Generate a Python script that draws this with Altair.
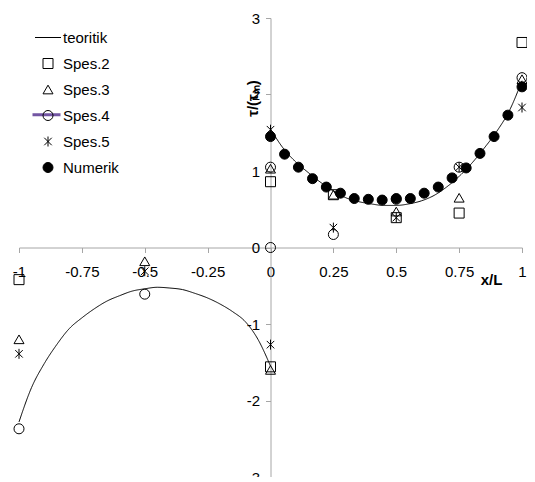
import altair as alt
import pandas as pd

FONT = "Liberation Sans"

series_order = ["teoritik", "Spes.2", "Spes.3", "Spes.4", "Spes.5", "Numerik"]

# theoretical curve, negative branch (x/L from -1 to 0)
teo_neg_x = [-1.0, -0.95, -0.9, -0.85, -0.8, -0.75, -0.7, -0.65, -0.6, -0.55, -0.5,
             -0.45, -0.4, -0.35, -0.3, -0.25, -0.2, -0.15, -0.1, -0.05, 0.0]
teo_neg_y = [-2.28, -1.83, -1.52, -1.27, -1.06, -0.92, -0.8, -0.7, -0.63, -0.57, -0.54,
             -0.52, -0.53, -0.55, -0.6, -0.66, -0.74, -0.84, -0.97, -1.2, -1.55]
# theoretical curve, positive branch (x/L from 0 to 1)
teo_pos_x = [0.0, 0.05, 0.1, 0.15, 0.2, 0.25, 0.3, 0.35, 0.4, 0.45, 0.5,
             0.55, 0.6, 0.65, 0.7, 0.75, 0.8, 0.85, 0.9, 0.95, 1.0]
teo_pos_y = [1.55, 1.3, 1.12, 0.98, 0.85, 0.74, 0.65, 0.6, 0.57, 0.55, 0.55,
             0.57, 0.61, 0.68, 0.79, 0.93, 1.1, 1.3, 1.52, 1.79, 2.18]

spes2_x = [-1.0, 0.0, 0.0, 0.25, 0.5, 0.75, 1.0]
spes2_y = [-0.42, -1.56, 0.86, 0.69, 0.39, 0.45, 2.68]
spes3_x = [-1.0, -0.5, 0.0, 0.0, 0.25, 0.5, 0.75, 1.0]
spes3_y = [-1.2, -0.18, -1.6, 1.03, 0.69, 0.47, 0.65, 2.2]
spes4_x = [-1.0, -0.5, 0.0, 0.0, 0.25, 0.5, 0.75, 1.0]
spes4_y = [-2.37, -0.61, 0.0, 1.05, 0.17, 0.63, 1.05, 2.22]
spes5_x = [-1.0, -0.5, 0.0, 0.0, 0.25, 0.5, 0.75, 1.0]
spes5_y = [-1.39, -0.31, -1.27, 1.54, 0.26, 0.39, 1.05, 1.83]
num_x = [0.0, 0.056, 0.111, 0.167, 0.222, 0.278, 0.333, 0.389, 0.444, 0.5,
         0.556, 0.611, 0.667, 0.722, 0.778, 0.833, 0.889, 0.944, 1.0]
num_y = [1.45, 1.22, 1.05, 0.9, 0.79, 0.71, 0.64, 0.63, 0.62, 0.64,
         0.64, 0.71, 0.79, 0.91, 1.04, 1.23, 1.45, 1.73, 2.1]

x_ticks = [-1, -0.75, -0.5, -0.25, 0, 0.25, 0.5, 0.75, 1]
y_ticks = [-3, -2, -1, 0, 1, 2, 3]

# tables
line_df = pd.concat([
    pd.DataFrame({"x": teo_neg_x, "y": teo_neg_y, "branch": "neg"}),
    pd.DataFrame({"x": teo_pos_x, "y": teo_pos_y, "branch": "pos"}),
])
line_df["lg"] = "Spes.4"

pts = []
for name, xs, ys in [("Spes.2", spes2_x, spes2_y), ("Spes.3", spes3_x, spes3_y),
                     ("Spes.4", spes4_x, spes4_y), ("Spes.5", spes5_x, spes5_y),
                     ("Numerik", num_x, num_y)]:
    pts.append(pd.DataFrame({"x": xs, "y": ys, "series": name}))
pts_df = pd.concat(pts)

W, H = 503, 459

xscale = alt.Scale(domain=[-1, 1], nice=False, zero=False)
yscale = alt.Scale(domain=[-3, 3], nice=False, zero=False)

axis_common = dict(
    grid=False, domainColor="#a6a6a6", tickColor="#a6a6a6", tickSize=5,
    labelFont=FONT, labelFontSize=15, labelColor="black", labelFlush=False,
    labelOverlap=False, titleFont=FONT, titleFontSize=15, titleFontWeight="bold",
    titleColor="black", labelExpr="'' + datum.value",
    titleAlign="center", titleBaseline="middle",
)
xaxis = alt.Axis(values=x_ticks, orient="bottom", offset=-H / 2, labelPadding=12,
                 title="x/L", titleX=472, titleY=32, titleAngle=0, **axis_common)
yaxis = alt.Axis(values=y_ticks, orient="left", offset=-W / 2, labelPadding=6,
                 title="τ/(τₘ)", titleX=-18, titleY=80, titleAngle=270, **axis_common)

asterisk = "M-0.75,-0.75L0.75,0.75M-0.75,0.75L0.75,-0.75M0,-1L0,1"
shape_range = ["M-2.6,0L2.6,0", "square", "triangle-up", "circle", asterisk, "circle"]
fill_range = ["transparent", "transparent", "transparent", "transparent", "transparent", "black"]
stroke_range = ["black"] * 6
size_range = [100, 100, 100, 121, 100, 72]

main_legend = alt.Legend(
    orient="none", legendX=21.5, legendY=12, title=None, padding=0,
    labelFont=FONT, labelFontSize=15, labelColor="black", labelOffset=7.5,
    rowPadding=10, symbolStrokeWidth=1, symbolOpacity=1,
)

x_enc = alt.X("x:Q", scale=xscale, axis=xaxis)
y_enc = alt.Y("y:Q", scale=yscale, axis=yaxis)

line = alt.Chart(line_df).mark_line(color="black", strokeWidth=1, interpolate="monotone").encode(
    x=x_enc, y=y_enc, detail="branch:N",
    strokeDash=alt.StrokeDash(
        "lg:N", scale=alt.Scale(domain=["Spes.4"], range=[[1, 0]]),
        legend=alt.Legend(
            orient="none", legendX=20, legendY=89.2, title=None, padding=0,
            symbolType="M-2.8,0L2.8,0", symbolSize=100, symbolStrokeColor="#7356a3",
            symbolStrokeWidth=3, labelColor="transparent", labelFont=FONT,
            labelFontSize=15, labelOffset=7.5,
        ),
    ),
)

points = alt.Chart(pts_df).mark_point(filled=False, strokeWidth=1, opacity=1).encode(
    x=x_enc, y=y_enc,
    shape=alt.Shape("series:N", scale=alt.Scale(domain=series_order, range=shape_range), legend=main_legend),
    fill=alt.Fill("series:N", scale=alt.Scale(domain=series_order, range=fill_range), legend=main_legend),
    stroke=alt.Stroke("series:N", scale=alt.Scale(domain=series_order, range=stroke_range), legend=main_legend),
    size=alt.Size("series:N", scale=alt.Scale(domain=series_order, range=size_range), legend=main_legend),
)

chart = alt.layer(line, points).properties(
    width=W, height=H,
    padding={"left": 11, "top": 10, "right": 5, "bottom": 0},
    autosize=alt.AutoSizeParams(type="none"),
    background="white",
).configure_view(stroke=None)

chart.save("out.html", embed_options={"renderer": "svg", "actions": False})
